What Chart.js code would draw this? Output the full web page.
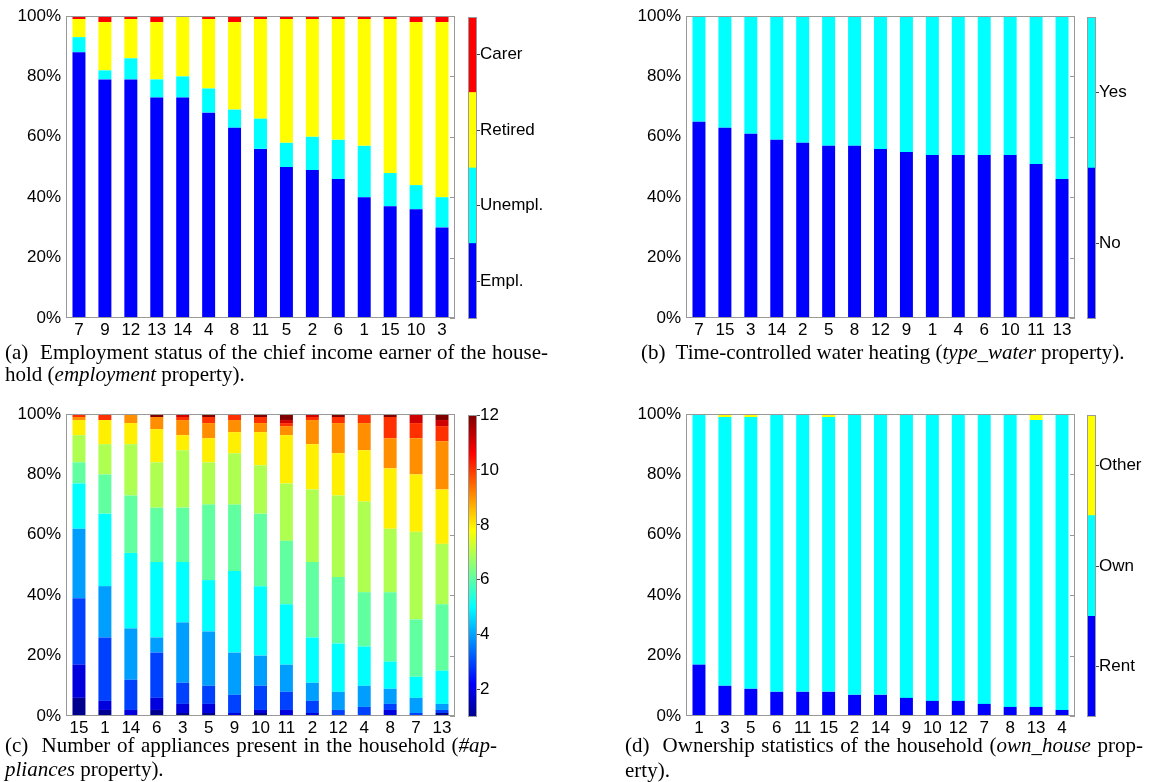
<!DOCTYPE html>
<html>
<head>
<meta charset="utf-8">
<script src="https://cdn.jsdelivr.net/npm/chart.js@4.4.1/dist/chart.umd.min.js"></script>
<style>
body { margin: 0; background: #fff; width: 1153px; height: 782px; position: relative; overflow: hidden; }
.box { position: absolute; }
.cap { position: absolute; font-family: "Liberation Serif", serif; font-size: 21px; line-height: 22px; color: #000; white-space: nowrap; }
.just { text-align: justify; text-align-last: justify; white-space: normal; }
</style>
</head>
<body>
<div class="box" style="left:0;top:0"><canvas id="empl" width="460" height="345"></canvas></div>
<div class="box" style="left:460px;top:0"><canvas id="emplBar" width="110" height="345"></canvas></div>
<div class="box" style="left:620px;top:0"><canvas id="water" width="460" height="345"></canvas></div>
<div class="box" style="left:1080px;top:0"><canvas id="waterBar" width="73" height="345"></canvas></div>
<div class="box" style="left:0;top:398px"><canvas id="appl" width="460" height="345"></canvas></div>
<div class="box" style="left:460px;top:398px"><canvas id="applBar" width="110" height="345"></canvas></div>
<div class="box" style="left:620px;top:398px"><canvas id="own" width="460" height="345"></canvas></div>
<div class="box" style="left:1080px;top:398px"><canvas id="ownBar" width="73" height="345"></canvas></div>

<div class="cap just" style="left:5px;top:341px;width:543px">(a)&nbsp; Employment status of the chief income earner of the house-</div>
<div class="cap" style="left:5px;top:363px">hold (<i>employment</i> property).</div>
<div class="cap" style="left:641px;top:341px">(b)&nbsp; Time-controlled water heating (<i>type_water</i> property).</div>
<div class="cap just" style="left:5px;top:734px;width:492px">(c)&nbsp; Number of appliances present in the household (<i>#ap-</i></div>
<div class="cap" style="left:5px;top:758px"><i>pliances</i> property).</div>
<div class="cap just" style="left:625px;top:734px;width:518px">(d)&nbsp; Ownership statistics of the household (<i>own_house</i> prop-</div>
<div class="cap" style="left:625px;top:759px">erty).</div>

<script>
// (a) employment status, % of households per cluster
const empCats = ['7', '9', '12', '13', '14', '4', '8', '11', '5', '2', '6', '1', '15', '10', '3'];
const empEmpl = [88, 79, 79, 73, 73, 68, 63, 56, 50, 49, 46, 40, 37, 36, 30];
const empUnempl = [5, 3, 7, 6, 7, 8, 6, 10, 8, 11, 13, 17, 11, 8, 10];
const empRetired = [6, 16, 13, 19, 20, 23, 29, 33, 41, 39, 40, 42, 51, 54, 58];
const empCarer = [1, 2, 1, 2, 0, 1, 2, 1, 1, 1, 1, 1, 1, 2, 2];
const empNames = ['Empl.', 'Unempl.', 'Retired', 'Carer'];

// (b) time-controlled water heating
const waterCats = ['7', '15', '3', '14', '2', '5', '8', '12', '9', '1', '4', '6', '10', '11', '13'];
const waterNo = [65, 63, 61, 59, 58, 57, 57, 56, 55, 54, 54, 54, 54, 51, 46];
const waterYes = [35, 37, 39, 41, 42, 43, 43, 44, 45, 46, 46, 46, 46, 49, 54];
const waterNames = ['No', 'Yes'];

// (c) number of appliances (1..12)
const applCats = ['15', '1', '14', '6', '3', '5', '9', '10', '11', '2', '12', '4', '8', '7', '13'];
const appl1 = [6, 2, 0, 2, 1, 1, 0, 1, 0, 0, 0, 0, 0, 0, 1];
const appl2 = [11, 3, 2, 4, 3, 3, 1, 1, 2, 1, 0, 0, 2, 0, 0];
const appl3 = [22, 21, 10, 15, 7, 6, 6, 8, 6, 4, 2, 3, 2, 1, 1];
const appl4 = [23, 17, 17, 5, 20, 18, 14, 10, 9, 6, 6, 7, 5, 5, 2];
const appl5 = [15, 24, 25, 25, 20, 17, 27, 23, 20, 15, 16, 13, 9, 7, 11];
const appl6 = [7, 13, 19, 18, 18, 25, 22, 24, 21, 25, 22, 18, 23, 19, 22];
const appl7 = [9, 10, 17, 15, 19, 14, 17, 16, 19, 24, 27, 30, 21, 29, 20];
const appl8 = [5, 8, 7, 11, 5, 8, 7, 11, 16, 15, 14, 17, 20, 19, 18];
const appl9 = [1, 0, 3, 4, 5, 5, 4, 3, 3, 8, 10, 9, 10, 12, 16];
const appl10 = [1, 2, 0, 0, 1, 2, 2, 2, 1, 1, 2, 3, 7, 5, 5];
const appl11 = [0, 0, 0, 0, 1, 0, 0, 0, 1, 1, 0, 0, 0, 3, 2];
const appl12 = [0, 0, 0, 1, 0, 1, 0, 1, 2, 0, 1, 0, 1, 0, 2];
const applTicks = [2, 4, 6, 8, 10, 12];

// (d) ownership
const ownCats = ['1', '3', '5', '6', '11', '15', '2', '14', '9', '10', '12', '7', '8', '13', '4'];
const ownRent = [17, 10, 9, 8, 8, 8, 7, 7, 6, 5, 5, 4, 3, 3, 2];
const ownOwn = [83, 89, 90, 92, 92, 91, 93, 93, 94, 95, 95, 96, 97, 95, 98];
const ownOther = [0, 1, 1, 0, 0, 1, 0, 0, 0, 0, 0, 0, 0, 2, 0];
const ownNames = ['Rent', 'Own', 'Other'];

const jet4 = ['#0000ff', '#00ffff', '#ffff00', '#ff0000'];
const jet12 = ['rgb(0,0,143)', 'rgb(0,0,223)', 'rgb(0,64,255)', 'rgb(0,159,255)', 'rgb(0,255,255)', 'rgb(96,255,159)',
    'rgb(175,255,80)', 'rgb(255,239,0)', 'rgb(255,143,0)', 'rgb(255,48,0)', 'rgb(207,0,0)', 'rgb(128,0,0)'];

const FONT = { family: '"Liberation Sans", Arial, sans-serif', size: 17 };
const AXIS = '#999';

// box around the axes + inward ticks on the right side
const boxPlugin = {
    id: 'box',
    afterDraw(chart, args, opts) {
        const { ctx, chartArea: a } = chart;
        ctx.save();
        ctx.strokeStyle = AXIS;
        ctx.lineWidth = 1;
        ctx.strokeRect(a.left + 0.5, a.top + 0.5, a.right - a.left - 1, a.bottom - a.top - 1);
        if (opts.rightTicks) {
            const y = chart.scales.y;
            ctx.beginPath();
            y.ticks.forEach(t => {
                const py = Math.round(y.getPixelForValue(t.value)) + 0.5;
                ctx.moveTo(a.right, py);
                ctx.lineTo(a.right - 5, py);
            });
            ctx.stroke();
        }
        ctx.restore();
    }
};

function mainChart(id, labels, series, colors) {
    new Chart(document.getElementById(id), {
        type: 'bar',
        data: {
            labels: labels,
            datasets: series.map((s, i) => ({
                data: s,
                backgroundColor: colors[i],
                borderWidth: 0,
                barPercentage: 0.5,
                categoryPercentage: 1.0
            }))
        },
        options: {
            responsive: false,
            animation: false,
            layout: { padding: { top: 16, right: 5, left: 0, bottom: 0 } },
            plugins: { legend: { display: false }, tooltip: { enabled: false }, box: { rightTicks: true } },
            scales: {
                x: {
                    stacked: true,
                    grid: { display: false, drawTicks: false },
                    border: { display: false },
                    ticks: { color: '#000', font: FONT, padding: 2, maxRotation: 0, autoSkip: false },
                    afterFit: s => { s.height = 27; }
                },
                y: {
                    stacked: true,
                    min: 0,
                    max: 100,
                    grid: { display: false, drawTicks: false },
                    border: { display: false },
                    ticks: { color: '#000', font: FONT, padding: 5, stepSize: 20, callback: v => v + '%' },
                    afterFit: s => { s.width = 66; }
                }
            }
        },
        plugins: [boxPlugin]
    });
}

// discrete colour bar with a label in the middle of each band
function catBar(id, names, colors, w) {
    new Chart(document.getElementById(id), {
        type: 'bar',
        data: {
            labels: [''],
            datasets: names.map((n, i) => ({
                data: [1],
                backgroundColor: colors[i],
                borderWidth: 0,
                barPercentage: 1,
                categoryPercentage: 1
            }))
        },
        options: {
            responsive: false,
            animation: false,
            layout: { padding: { top: 17, left: w.left, bottom: 26, right: 0 } },
            plugins: { legend: { display: false }, tooltip: { enabled: false }, box: { rightTicks: false } },
            scales: {
                x: { stacked: true, display: false },
                y: {
                    stacked: true,
                    position: 'right',
                    min: 0,
                    max: names.length,
                    border: { display: false },
                    grid: { drawOnChartArea: false, tickLength: 3, color: '#444' },
                    afterBuildTicks: s => { s.ticks = names.map((n, i) => ({ value: i + 0.5 })); },
                    ticks: { color: '#000', font: FONT, padding: 0, callback: (v, i) => names[i] },
                    afterFit: s => { s.width = w.axis; }
                }
            }
        },
        plugins: [boxPlugin]
    });
}

// continuous jet colour bar for the appliance counts
function jetBar(id) {
    const stops = [[0, 'rgb(0,0,143)'], [7 / 63, 'rgb(0,0,255)'], [23 / 63, 'rgb(0,255,255)'],
        [39 / 63, 'rgb(255,255,0)'], [55 / 63, 'rgb(255,0,0)'], [1, 'rgb(128,0,0)']];
    new Chart(document.getElementById(id), {
        type: 'bar',
        data: {
            labels: [''],
            datasets: [{
                data: [[1, 12]],
                borderWidth: 0,
                barPercentage: 1,
                categoryPercentage: 1,
                backgroundColor: c => {
                    const a = c.chart.chartArea;
                    if (!a) return null;
                    const g = c.chart.ctx.createLinearGradient(0, a.bottom, 0, a.top);
                    stops.forEach(s => g.addColorStop(s[0], s[1]));
                    return g;
                }
            }]
        },
        options: {
            responsive: false,
            animation: false,
            layout: { padding: { top: 17, left: 8, bottom: 26, right: 0 } },
            plugins: { legend: { display: false }, tooltip: { enabled: false }, box: { rightTicks: false } },
            scales: {
                x: { display: false },
                y: {
                    position: 'right',
                    min: 1,
                    max: 12,
                    border: { display: false },
                    grid: { drawOnChartArea: false, tickLength: 3, color: '#444' },
                    afterBuildTicks: s => { s.ticks = applTicks.map(v => ({ value: v })); },
                    ticks: { color: '#000', font: FONT, padding: 0 },
                    afterFit: s => { s.width = 93; }
                }
            }
        },
        plugins: [boxPlugin]
    });
}

mainChart('empl', empCats, [empEmpl, empUnempl, empRetired, empCarer], jet4);
catBar('emplBar', empNames, jet4, { left: 8, axis: 93 });

mainChart('water', waterCats, [waterNo, waterYes], jet4);
catBar('waterBar', waterNames, jet4, { left: 7, axis: 57 });

mainChart('appl', applCats, [appl1, appl2, appl3, appl4, appl5, appl6, appl7, appl8, appl9, appl10, appl11, appl12], jet12);
jetBar('applBar');

mainChart('own', ownCats, [ownRent, ownOwn, ownOther], jet4);
catBar('ownBar', ownNames, jet4, { left: 7, axis: 57 });
</script>
</body>
</html>
